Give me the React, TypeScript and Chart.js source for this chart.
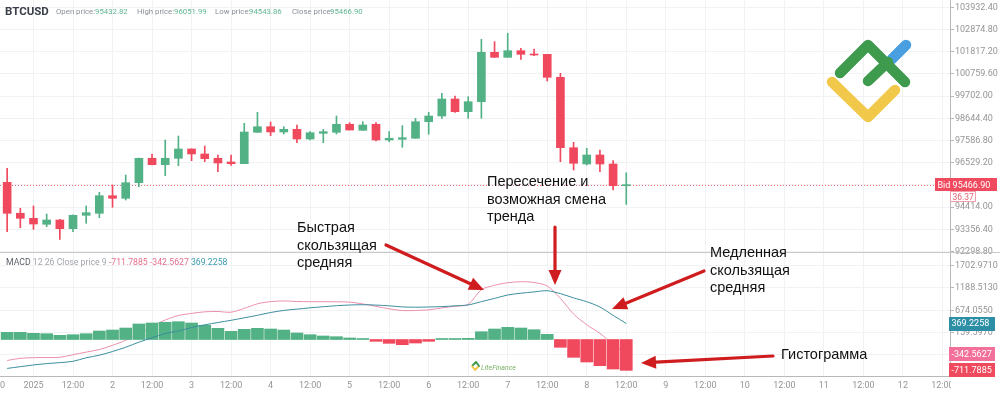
import React, { useEffect, useRef } from 'react';
import { Chart, registerables } from 'chart.js';

Chart.register(...registerables);

// ---------- DATA ----------
// candle open times, hours from 2025-01-01 00:00 (4h candles)
const candleHours = [-8, -4, 0, 4, 8, 12, 16, 20, 24, 28, 32, 36, 40, 44, 48, 52, 56, 60, 64, 68, 72, 76, 80, 84, 88, 92, 96, 100, 104, 108, 112, 116, 120, 124, 128, 132, 136, 140, 144, 148, 152, 156, 160, 164, 168, 172, 176, 180];

const opens = [95595, 94119, 93880, 93595, 93799, 93385, 94023, 94119, 94957, 94833, 95576, 96739, 96434, 96739, 97182, 96944, 96739, 96563, 96482, 97977, 98244, 97992, 98120, 97658, 97930, 97977, 98359, 98073, 98359, 97611, 97644, 97692, 98482, 98754, 99564, 98959, 99435, 101789, 101550, 101865, 101708, 101693, 100598, 97244, 96467, 96896, 96467, 95432.82];
const highs = [96262, 94357, 94466, 94085, 93833, 94040, 94466, 95119, 95467, 95943, 96750, 96944, 97611, 97801, 97190, 97325, 96896, 96896, 98406, 98930, 98468, 98244, 98325, 98006, 98120, 98754, 98435, 98482, 98435, 98006, 98292, 98644, 98930, 99835, 99707, 99673, 102408, 102294, 102694, 101979, 101946, 101693, 100788, 97501, 97215, 97134, 96625, 96051.99];
const lows = [93242, 93433, 93356, 93480, 92880, 93242, 93642, 93909, 94404, 94752, 95386, 96420, 95910, 96386, 96625, 96577, 96100, 96405, 96482, 97977, 97815, 97896, 97482, 97611, 97482, 97896, 98087, 98073, 97563, 97530, 97263, 97692, 97882, 98644, 98930, 98644, 98644, 101550, 101550, 101455, 101627, 100421, 96577, 96181, 96420, 96100, 95229, 94543.86];
const closes = [94119, 93880, 93609, 93799, 93385, 94023, 94147, 94957, 94833, 95576, 96739, 96434, 96739, 97182, 96944, 96720, 96515, 96482, 97992, 98244, 97992, 98120, 97658, 97958, 98006, 98359, 98087, 98325, 97611, 97692, 97720, 98482, 98754, 99564, 98959, 99435, 101789, 101550, 101865, 101693, 101660, 100598, 97244, 96501, 96896, 96467, 95433, 95466.90];

const macdLine = [-484, -434, -420, -415, -411, -351, -291, -231, -134, -18, 131, 305, 450, 554, 602, 639, 646, 630, 717, 824, 874, 890, 877, 872, 872, 870, 863, 821, 764, 708, 667, 671, 683, 729, 768, 812, 1149, 1250, 1310, 1333, 1315, 1234, 950, 586, 339, 143, -104, -342.5627];
const signalLine = [-667, -627, -588, -556, -533, -503, -422, -362, -277, -178, -62, 39, 138, 196, 277, 339, 392, 443, 500, 558, 623, 671, 701, 731, 757, 780, 796, 803, 794, 777, 752, 745, 750, 759, 777, 796, 874, 948, 1027, 1068, 1098, 1126, 1059, 960, 872, 750, 558, 369.2258];
const histogram = [166, 166, 143, 134, 97, 111, 134, 196, 219, 265, 358, 381, 397, 411, 381, 328, 258, 189, 235, 258, 242, 219, 150, 111, 81, 65, 35, 12, -42, -88, -120, -81, -42, 8, 8, 28, 180, 242, 281, 265, 226, 120, -180, -411, -519, -604, -681, -711.7885];

const xTickHours = [-12, 0, 12, 24, 36, 48, 60, 72, 84, 96, 108, 120, 132, 144, 156, 168, 180, 192, 204, 216, 228, 240, 252, 264, 276];
const xTickLabels = ['12:00', '2025', '12:00', '2', '12:00', '3', '12:00', '4', '12:00', '5', '12:00', '6', '12:00', '7', '12:00', '8', '12:00', '9', '12:00', '10', '12:00', '11', '12:00', '12', '12:00'];
const priceTicks = [92298.8, 93356.4, 94414.0, 95471.6, 96529.2, 97586.8, 98644.4, 99702.0, 100759.6, 101817.2, 102874.8, 103932.4];
const macdTicks = [-354.861, 159.597, 674.055, 1188.513, 1702.971];

const bidPrice = 95466.9;
const bidDiff = '36.37';
const ohlcHeader = { open: '95432.82', high: '96051.99', low: '94543.86', close: '95466.90' };
const macdHeader = { hist: '-711.7885', macd: '-342.5627', signal: '369.2258' };

// ---------- STYLE ----------
const GREEN = '#52b185';
const RED = '#f0485d';
const PINK = '#ec8fab';
const TEAL = '#3b8f9e';
const GRID = '#f1f2f4';
const AXIS = '#b8b8b8';
const TICK = '#959595';
const ARROW = '#cf1c1f';
const FONT = 'Roboto, "Liberation Sans", Arial, sans-serif';
const ANN_FONT = '14.5px "Liberation Sans", Arial, sans-serif';

function drawArrow(ctx: CanvasRenderingContext2D, x1: number, y1: number, x2: number, y2: number) {
  const ang = Math.atan2(y2 - y1, x2 - x1);
  const head = 15;
  const hw = 6.5;
  const bx = x2 - head * Math.cos(ang);
  const by = y2 - head * Math.sin(ang);
  ctx.save();
  ctx.strokeStyle = ARROW;
  ctx.fillStyle = ARROW;
  ctx.lineWidth = 3.2;
  ctx.lineCap = 'round';
  ctx.beginPath();
  ctx.moveTo(x1, y1);
  ctx.lineTo(bx, by);
  ctx.stroke();
  ctx.beginPath();
  ctx.moveTo(x2, y2);
  ctx.lineTo(bx + hw * Math.sin(ang), by - hw * Math.cos(ang));
  ctx.lineTo(bx - hw * Math.sin(ang), by + hw * Math.cos(ang));
  ctx.closePath();
  ctx.fill();
  ctx.restore();
}

function drawLines(ctx: CanvasRenderingContext2D, x: number, lines: string[], baseline: number, lh: number) {
  lines.forEach((s, i) => ctx.fillText(s, x, baseline + i * lh));
}

function labelBox(ctx: CanvasRenderingContext2D, x: number, cy: number, w: number, h: number, fill: string, text: string, color: string, stroke?: string) {
  ctx.fillStyle = fill;
  ctx.fillRect(x, Math.round(cy - h / 2), w, h);
  if (stroke) {
    ctx.strokeStyle = stroke;
    ctx.lineWidth = 1;
    ctx.strokeRect(x + 0.5, Math.round(cy - h / 2) + 0.5, w - 1, h - 1);
  }
  ctx.fillStyle = color;
  ctx.textBaseline = 'middle';
  ctx.textAlign = 'left';
  ctx.fillText(text, x + 2.5, cy + 0.5);
}

const overlayPlugin = {
  id: 'overlay',
  beforeDatasetsDraw(chart: any) {
    const ctx = chart.ctx as CanvasRenderingContext2D;
    const area = chart.chartArea;
    const yb = Math.round(chart.scales.y.getPixelForValue(bidPrice)) + 0.5;
    ctx.save();
    ctx.strokeStyle = '#e46a78';
    ctx.lineWidth = 1;
    ctx.setLineDash([1, 2]);
    ctx.beginPath();
    ctx.moveTo(area.left, yb);
    ctx.lineTo(area.right, yb);
    ctx.stroke();
    ctx.restore();
  },
  afterDraw(chart: any) {
    const ctx = chart.ctx as CanvasRenderingContext2D;
    const ys = chart.scales.y;
    const y2 = chart.scales.y2;
    const area = chart.chartArea;
    ctx.save();

    // clip x labels under the price axis column
    ctx.fillStyle = '#ffffff';
    ctx.fillRect(area.right + 1, area.bottom + 1, chart.width - area.right, chart.height - area.bottom);

    // pane separator
    const sepY = Math.round(ys.bottom) + 0.5;
    ctx.strokeStyle = '#c9c9c9';
    ctx.lineWidth = 1;
    ctx.beginPath();
    ctx.moveTo(0, sepY);
    ctx.lineTo(chart.width, sepY);
    ctx.stroke();

    // header
    ctx.textBaseline = 'middle';
    ctx.textAlign = 'left';
    ctx.font = `bold 11.5px ${FONT}`;
    ctx.fillStyle = '#3a3f4a';
    ctx.fillText('BTCUSD', 5, 12.5);
    const parts: [string, string, number, number][] = [
      ['Open price:', ohlcHeader.open, 56, 95],
      ['High price:', ohlcHeader.high, 137, 174],
      ['Low price:', ohlcHeader.low, 215, 249],
      ['Close price:', ohlcHeader.close, 292, 330],
    ];
    ctx.font = `7.8px ${FONT}`;
    parts.forEach(([lab, val, x, vx]) => {
      ctx.fillStyle = '#8a8f98';
      ctx.fillText(lab, x, 12.5);
      ctx.fillStyle = '#62b893';
      ctx.fillText(val, vx, 12.5);
    });

    // MACD header
    ctx.font = `8.7px ${FONT}`;
    let hx = 6;
    const seg: [string, string][] = [
      ['MACD ', '#5a5f68'],
      ['12 26 Close price 9 ', '#a2a6ad'],
      [macdHeader.hist + ' ', '#e5708c'],
      [macdHeader.macd + ' ', '#e5708c'],
      [macdHeader.signal, '#3b9aae'],
    ];
    seg.forEach(([s, c]) => {
      ctx.fillStyle = c;
      ctx.fillText(s, hx, 263);
      hx += ctx.measureText(s).width;
    });

    // Bid label
    const by = ys.getPixelForValue(bidPrice);
    ctx.font = `9px ${FONT}`;
    labelBox(ctx, 935, by, 62, 13, '#ef4a5e', 'Bid 95466.90', '#ffffff');
    ctx.font = `8.5px ${FONT}`;
    labelBox(ctx, 950, by + 12, 26, 11, '#ffffff', bidDiff, '#e2606f', '#f2a0ab');

    // MACD labels
    ctx.font = `9px ${FONT}`;
    labelBox(ctx, 949, y2.getPixelForValue(Number(macdHeader.signal)), 46, 14, '#2d8fa5', macdHeader.signal, '#ffffff');
    labelBox(ctx, 949, y2.getPixelForValue(Number(macdHeader.macd)), 46, 14, '#f2709a', macdHeader.macd, '#ffffff');
    labelBox(ctx, 949, y2.getPixelForValue(Number(macdHeader.hist)), 46, 14, '#ef4a5e', macdHeader.hist, '#ffffff');

    // big logo
    ctx.lineCap = 'round';
    ctx.lineJoin = 'round';
    ctx.lineWidth = 10.5;
    ctx.strokeStyle = '#f2c84b';
    ctx.beginPath();
    ctx.moveTo(832, 82);
    ctx.lineTo(868, 117);
    ctx.lineTo(895, 90);
    ctx.stroke();
    ctx.strokeStyle = '#4a9fe0';
    ctx.beginPath();
    ctx.moveTo(892, 59);
    ctx.lineTo(906, 45);
    ctx.stroke();
    ctx.strokeStyle = '#3e9a4c';
    ctx.beginPath();
    ctx.moveTo(840, 73);
    ctx.lineTo(868, 45);
    ctx.lineTo(905, 82);
    ctx.stroke();
    ctx.beginPath();
    ctx.moveTo(868, 81);
    ctx.lineTo(888, 62);
    ctx.stroke();

    // small logo
    ctx.lineWidth = 2;
    ctx.strokeStyle = '#f2c84b';
    ctx.beginPath();
    ctx.moveTo(472, 366);
    ctx.lineTo(475, 370);
    ctx.lineTo(478, 367);
    ctx.stroke();
    ctx.strokeStyle = '#3e9a4c';
    ctx.beginPath();
    ctx.moveTo(473, 365);
    ctx.lineTo(476, 362);
    ctx.lineTo(479, 366);
    ctx.stroke();
    ctx.font = `italic 7px ${FONT}`;
    ctx.fillStyle = '#7bb36a';
    ctx.textBaseline = 'middle';
    ctx.fillText('LiteFinance', 481, 368);

    // annotations
    ctx.fillStyle = '#111111';
    ctx.font = ANN_FONT;
    ctx.textBaseline = 'alphabetic';
    drawLines(ctx, 487, ['Пересечение и', 'возможная смена', 'тренда'], 186, 17.5);
    drawLines(ctx, 297, ['Быстрая', 'скользящая', 'средняя'], 232, 17.5);
    drawLines(ctx, 710, ['Медленная', 'скользящая', 'средняя'], 257, 17.5);
    ctx.fillText('Гистограмма', 781, 359);

    drawArrow(ctx, 386, 245, 484, 290);
    drawArrow(ctx, 555, 227, 555, 285);
    drawArrow(ctx, 704, 271, 612, 309);
    drawArrow(ctx, 773, 356, 641, 363);

    ctx.restore();
  },
};

export default function App() {
  const ref = useRef<HTMLCanvasElement | null>(null);

  useEffect(() => {
    document.body.style.margin = '0';
    const canvas = ref.current;
    if (!canvas) return;

    const candleColors = candleHours.map((_, i) => (closes[i] >= opens[i] ? GREEN : RED));
    const wickData = candleHours.map((t, i) => ({ x: t, y: [lows[i], highs[i]] }));
    const bodyData = candleHours.map((t, i) => ({ x: t, y: [opens[i], closes[i]] }));
    const histData = candleHours.map((t, i) => ({ x: t, y: histogram[i] }));
    const macdData = candleHours.map((t, i) => ({ x: t, y: macdLine[i] }));
    const sigData = candleHours.map((t, i) => ({ x: t, y: signalLine[i] }));

    const tickFont = { size: 9, family: FONT };

    const chart = new Chart(canvas, {
      type: 'bar',
      data: {
        datasets: [
          { type: 'line', label: 'Signal', data: sigData, yAxisID: 'y2', borderColor: TEAL, borderWidth: 1, pointRadius: 0, tension: 0.3, order: 0 } as any,
          { type: 'bar', label: 'Histogram', data: histData, yAxisID: 'y2', backgroundColor: histogram.map((v) => (v >= 0 ? GREEN : RED)), barThickness: 12, grouped: false, minBarLength: 1, order: 1 } as any,
          { type: 'line', label: 'MACD', data: macdData, yAxisID: 'y2', borderColor: PINK, borderWidth: 1, pointRadius: 0, tension: 0.3, order: 2 } as any,
          { type: 'bar', label: 'Bodies', data: bodyData, yAxisID: 'y', backgroundColor: candleColors, barThickness: 8, grouped: false, minBarLength: 1, order: 3 } as any,
          { type: 'bar', label: 'Wicks', data: wickData, yAxisID: 'y', backgroundColor: candleColors, barThickness: 1, grouped: false, order: 4 } as any,
        ],
      },
      options: {
        responsive: false,
        animation: false,
        layout: { padding: 0 },
        plugins: { legend: { display: false }, tooltip: { enabled: false } },
        scales: {
          x: {
            type: 'linear',
            position: 'bottom',
            min: -10.17,
            max: 278.3,
            offset: false,
            grid: { color: GRID, drawTicks: false, offset: false },
            border: { color: AXIS },
            ticks: {
              color: TICK,
              font: tickFont,
              padding: 4,
              autoSkip: false,
              maxRotation: 0,
              callback: (v: any) => {
                const i = xTickHours.indexOf(Number(v));
                return i >= 0 ? xTickLabels[i] : '';
              },
            },
            afterBuildTicks: (s: any) => {
              s.ticks = xTickHours.map((v) => ({ value: v }));
            },
            afterFit: (s: any) => {
              s.height = 19;
              s.paddingLeft = 0;
              s.paddingRight = 0;
            },
          },
          y: {
            type: 'linear',
            position: 'right',
            stack: 'panes',
            stackWeight: 252,
            min: 92275,
            max: 104280,
            grid: { color: GRID, tickLength: 4, tickColor: AXIS },
            border: { color: AXIS },
            ticks: { color: TICK, font: tickFont, padding: 1, autoSkip: false, callback: (v: any) => Number(v).toFixed(2) },
            afterBuildTicks: (s: any) => {
              s.ticks = priceTicks.map((v) => ({ value: v }));
            },
            afterFit: (s: any) => {
              s.width = 50;
              s.paddingTop = 0;
              s.paddingBottom = 0;
            },
          },
          y2: {
            type: 'linear',
            position: 'right',
            stack: 'panes',
            stackWeight: 124,
            min: -842,
            max: 2019,
            grid: { color: GRID, tickLength: 4, tickColor: AXIS },
            border: { color: AXIS },
            ticks: { color: TICK, font: tickFont, padding: 1, autoSkip: false, callback: (v: any) => Number(v).toFixed(4) },
            afterBuildTicks: (s: any) => {
              s.ticks = macdTicks.map((v) => ({ value: v }));
            },
            afterFit: (s: any) => {
              s.width = 50;
              s.paddingTop = 0;
              s.paddingBottom = 0;
            },
          },
        } as any,
      },
      plugins: [overlayPlugin],
    });

    return () => chart.destroy();
  }, []);

  return (
    <div style={{ width: 1000, height: 395, background: '#ffffff' }}>
      <canvas ref={ref} width={1000} height={395} style={{ display: 'block' }} />
    </div>
  );
}
